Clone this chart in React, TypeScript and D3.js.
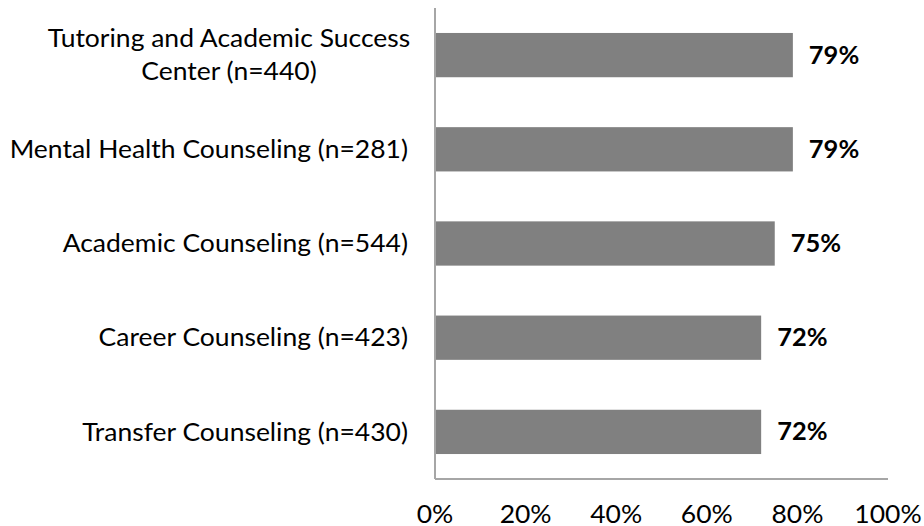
import React from "react";
import * as d3 from "d3";

const categories: string[][] = [
  ["Tutoring and Academic Success", "Center (n=440)"],
  ["Mental Health Counseling (n=281)"],
  ["Academic Counseling (n=544)"],
  ["Career Counseling (n=423)"],
  ["Transfer Counseling (n=430)"],
];
const values: number[] = [0.79, 0.79, 0.75, 0.72, 0.72];
const ticks: number[] = [0, 0.2, 0.4, 0.6, 0.8, 1.0];

const W = 924;
const H = 526;
const FONT = "Lato, 'Open Sans', sans-serif";
const SX = 1.06;

export default function App() {
  const left = 435;
  const right = 888;
  const top = 8;
  const bottom = 479;
  const x = d3.scaleLinear().domain([0, 1]).range([left, right]);
  const idx = categories.map((_, i) => String(i));
  const y = d3.scaleBand().domain(idx).range([top, bottom]).paddingInner(0.53).paddingOuter(0.265);
  const fs = 25;
  const lh = 33;
  return (
    <svg width={W} height={H} style={{ position: "absolute", left: 0, top: 0 }}>
      <rect width={W} height={H} fill="#fff" />
      {values.map((v, i) => (
        <rect key={i} x={x(0)} y={y(String(i))!} width={x(v) - x(0)} height={y.bandwidth()} fill="#808080" />
      ))}
      <line x1={left} x2={left} y1={top} y2={bottom} stroke="#a6a6a6" strokeWidth={2} />
      <line x1={left} x2={right} y1={bottom} y2={bottom} stroke="#a6a6a6" strokeWidth={2} />
      {values.map((v, i) => (
        <text
          key={i}
          transform={`translate(${x(v) + 16},${y(String(i))! + y.bandwidth() / 2}) scale(${SX},1)`}
          dy="0.35em"
          fontFamily={FONT}
          fontWeight="bold"
          fontSize={24}
          fill="#000"
        >
          {Math.round(v * 100)}%
        </text>
      ))}
      {categories.map((lines, i) => {
        const cy = y(String(i))! + y.bandwidth() / 2;
        const start = cy - ((lines.length - 1) * lh) / 2;
        const multi = lines.length > 1;
        return lines.map((ln, j) => (
          <text
            key={`${i}-${j}`}
            transform={`translate(${multi ? 229 : 408},${start + j * lh}) scale(${SX},1)`}
            dy="0.35em"
            textAnchor={multi ? "middle" : "end"}
            fontFamily={FONT}
            fontSize={fs}
            fill="#000"
          >
            {ln}
          </text>
        ));
      })}
      {ticks.map((t, i) => (
        <text
          key={i}
          transform={`translate(${x(t)},523) scale(${SX},1)`}
          textAnchor="middle"
          fontFamily={FONT}
          fontSize={fs}
          fill="#000"
        >
          {Math.round(t * 100)}%
        </text>
      ))}
    </svg>
  );
}
